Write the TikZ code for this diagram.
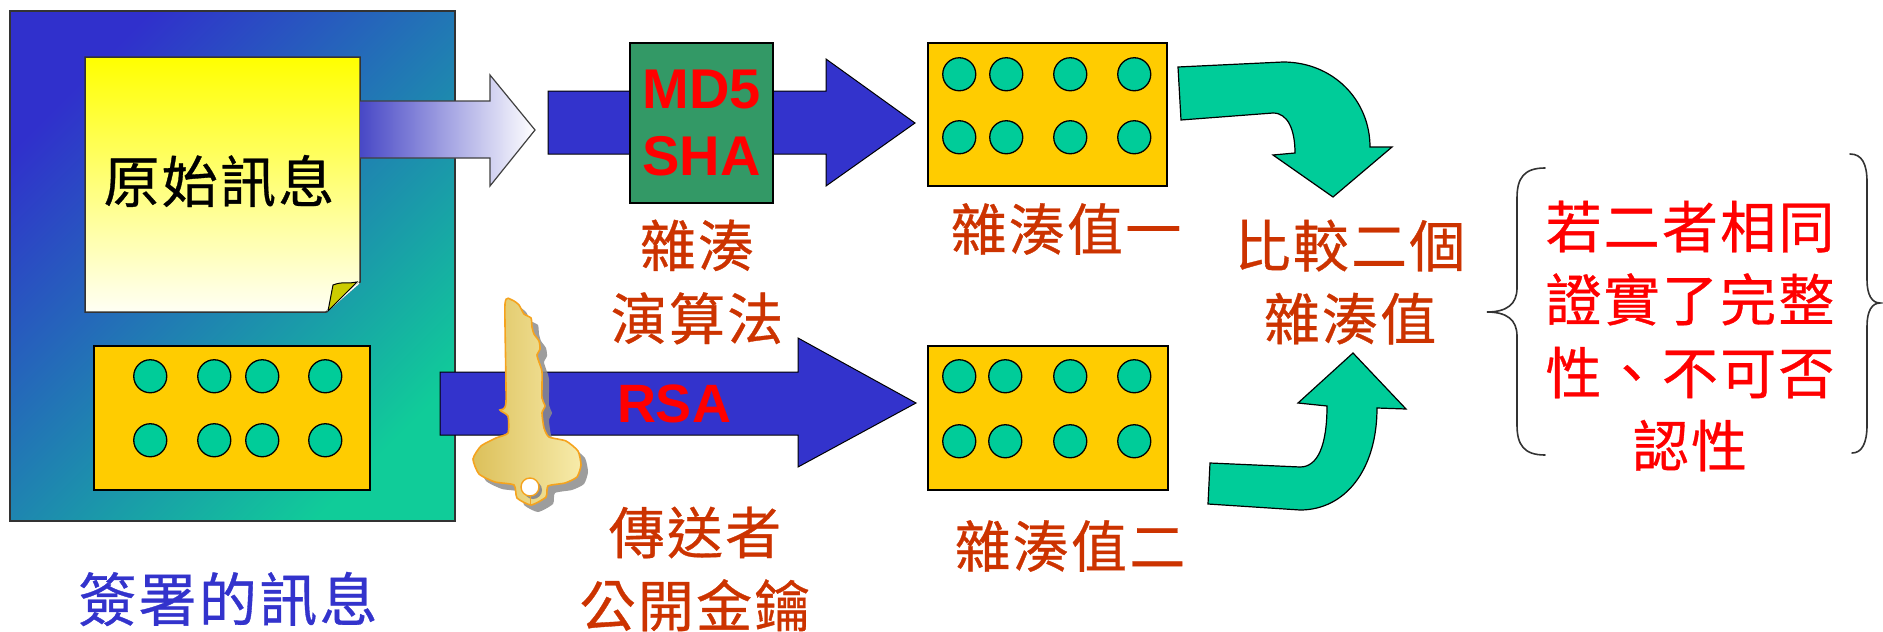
\documentclass[tikz,border=0pt]{standalone}
\usepackage{fontspec}
\setmainfont{Liberation Sans}
\newfontfamily\cjk[LetterSpace=4,FakeBold=0.6]{Noto Sans CJK TC}
\usetikzlibrary{calc}

\definecolor{sqblue}{HTML}{3030CC}
\definecolor{sqteal}{HTML}{10CC99}
\definecolor{arrowblue}{HTML}{3333CC}
\definecolor{fadeblue}{HTML}{4848C6}
\definecolor{boxgreen}{HTML}{339966}
\definecolor{boxgold}{HTML}{FFCC00}
\definecolor{dotgreen}{HTML}{00CC99}
\definecolor{labelred}{HTML}{CC3300}
\definecolor{titleblue}{HTML}{3333CC}
\definecolor{foldolive}{HTML}{CCCC00}
\definecolor{keydark}{HTML}{DCC05A}
\definecolor{keylight}{HTML}{F7EBAA}
\definecolor{keyedge}{HTML}{F5A31E}
\definecolor{bracegray}{HTML}{333333}

\begin{document}
\begin{tikzpicture}[x=1pt,y=-1pt,
  outline/.style={draw=black, line width=1.5pt},
  dotbox/.style={outline, fill=boxgold, inner sep=0pt},
  dot/.style={circle, draw=black, line width=1.3pt, fill=dotgreen,
    minimum size=33pt, inner sep=0pt},
  blockarrow/.style={draw=black, line width=1pt, fill=arrowblue, line join=miter},
  bentarrow/.style={draw=black, line width=1.2pt, fill=dotgreen, line join=miter},
  cjktext/.style={font=\cjk\fontsize{56}{73}\selectfont, align=center, inner sep=0pt},
  label/.style={cjktext, text=labelred},
  algo/.style={font=\fontsize{56}{67}\selectfont\bfseries, text=red,
    align=center, inner sep=0pt},
  bracestyle/.style={draw=bracegray, line width=1.6pt, line cap=round}
]
\useasboundingbox (0,0) rectangle (1883,632);

% ---- signed message: outer square ----
\node[draw=black!80, line width=1.5pt, minimum width=445pt, minimum height=510pt,
  top color=sqblue, bottom color=sqteal, shading angle=45, inner sep=0pt]
  (signed) at (232.5,266) {};

% original message sheet with a curled corner
\path[draw=black!80, line width=1.5pt, top color=yellow, middle color=yellow!22!white,
  bottom color=white!96!yellow]
  (85,57) -- (360,57) -- (360,282) -- (326,312) -- (85,312) -- cycle;
\draw[white, line width=1.5pt] (359,283) -- (327,311);
\path[fill=foldolive, draw=black, line width=1pt]
  (333,285) .. controls (343,281) and (350,284) .. (357,282) -- (328,311) -- cycle;
\node[cjktext, text=black] (orig) at (219,181) {原始訊息};

% signature block
\node[dotbox, minimum width=276pt, minimum height=144pt] (sigbox) at (232,418) {};
\foreach \dx [count=\i] in {57,121,169,232}
  \foreach \dy [count=\j] in {31,95}
    \node[dot] (sigbox-\i-\j) at ($(sigbox.north west)+(\dx,\dy)$) {};

% ---- message into hash function ----
\path[draw=black!75, line width=1.2pt, left color=fadeblue, right color=white]
  (360,101) -- (490,101) -- (490,75) -- (535,130) -- (490,186) -- (490,158) -- (360,158);

\path[blockarrow]
  (548,91) -- (826,91) -- (826,59) -- (915,123) -- (826,186) -- (826,154) -- (548,154) -- cycle;
\node[outline, fill=boxgreen, minimum width=143pt, minimum height=160pt, inner sep=0pt]
  (hashfn) at (701.5,123) {};
\node[algo] (hashname) at (hashfn.center) {MD5\\SHA};

% first hash value
\node[dotbox, minimum width=239pt, minimum height=143pt] (hash1) at (1047.5,114.5) {};
\foreach \dx [count=\i] in {32,79,143,207}
  \foreach \dy [count=\j] in {32,95}
    \node[dot] (hash1-\i-\j) at ($(hash1.north west)+(\dx,\dy)$) {};

% ---- signature decrypted with the public key ----
\path[blockarrow]
  (440,372) -- (798,372) -- (798,338) -- (916,403) -- (798,467) -- (798,435) -- (440,435) -- cycle;
\node[font=\fontsize{54}{60}\selectfont\bfseries, text=red, inner sep=0pt]
  (rsa) at (674,404) {RSA};

% golden key with its shadow
\def\keyoutline{(505,304) (512,300) (519,305) (524,314) (531,318) (532,327)
  (534,334) (539,341) (540,349) (537,355) (539,362) (542,372) (542,398) (545,406)
  (542,413) (544,428) (549,437) (566,441) (578,451) (581,465) (577,477) (565,483)
  (548,486) (546,497) (531,505) (517,498) (514,485) (495,482) (479,474) (473,459)
  (481,446) (496,438) (508,433) (508,416) (500,410) (506,402)}
\begin{scope}[shift={(7,7)}]
  \fill[black!45, opacity=0.85] plot[smooth cycle, tension=0.35] coordinates \keyoutline;
\end{scope}
\path[draw=keyedge, line width=1.6pt, left color=keydark, right color=keylight]
  plot[smooth cycle, tension=0.35] coordinates \keyoutline;
\fill[black!45] (533,490) circle (9);
\path[draw=keyedge, line width=1.4pt, fill=white] (530,487) circle (9);
\draw[keyedge, line width=1pt] (530,496) -- (530,504);

% second hash value
\node[dotbox, minimum width=240pt, minimum height=144pt] (hash2) at (1048,418) {};
\foreach \dx [count=\i] in {32,78,143,207}
  \foreach \dy [count=\j] in {31,96}
    \node[dot] (hash2-\i-\j) at ($(hash2.north west)+(\dx,\dy)$) {};

% ---- comparison arrows ----
\path[bentarrow]
  (1178,67) -- (1283,62) .. controls (1333,62) and (1370,100) .. (1370,147)
  -- (1392,147) -- (1333,197) -- (1273,155) -- (1295,153)
  .. controls (1295,130) and (1288,113) .. (1273,113) -- (1181,120) -- cycle;
\path[bentarrow]
  (1210,463) -- (1300,467) .. controls (1318,467) and (1327,445) .. (1327,406)
  -- (1298,403) -- (1353,353) -- (1406,409) -- (1377,408)
  .. controls (1377,470) and (1345,510) .. (1300,510) -- (1208,504) -- cycle;

% ---- captions ----
\node[label] (hashcap) at (697,282) {雜湊\\演算法};
\node[label] (h1cap) at (1066,229) {雜湊值一};
\node[label] (keycap) at (695,569) {傳送者\\公開金鑰};
\node[label] (h2cap) at (1070,546) {雜湊值二};
\node[label] (cmpcap) at (1350,282) {比較二個\\雜湊值};
\node[cjktext, text=titleblue, font=\cjk\fontsize{58}{73}\selectfont] (title) at (228,599) {簽署的訊息};

% ---- conclusion in braces ----
\node[cjktext, text=red] (result) at (1690,336)
  {若二者相同\\證實了完整\\性、不可否\\認性};
\path[bracestyle]
  (1545,168) .. controls (1524,168) and (1517,178) .. (1517,198) -- (1517,288)
  .. controls (1517,304) and (1507,312) .. (1487,312)
  .. controls (1507,312) and (1517,320) .. (1517,336) -- (1517,425)
  .. controls (1517,445) and (1524,455) .. (1545,455);
\path[bracestyle]
  (1850,154) .. controls (1862,154) and (1867,164) .. (1867,182) -- (1867,280)
  .. controls (1867,295) and (1872,303) .. (1880,303)
  .. controls (1872,303) and (1867,311) .. (1867,326) -- (1867,425)
  .. controls (1867,443) and (1862,453) .. (1852,453);
\end{tikzpicture}
\end{document}
